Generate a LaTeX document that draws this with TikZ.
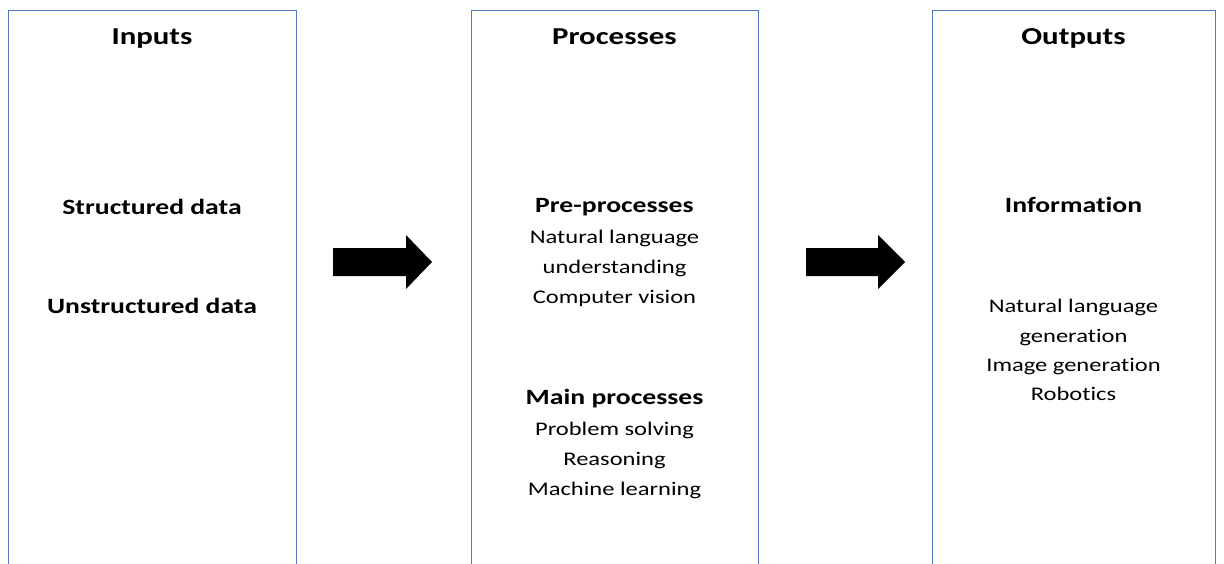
\documentclass[tikz,border=0pt]{standalone}
\usepackage{fontspec}
\setmainfont{Carlito}[FakeStretch=1.27, Ligatures={NoCommon,NoRare,NoContextual}]
\newcommand{\nl}{\kern0pt }
\definecolor{panelblue}{RGB}{80,120,196}
\tikzset{
  panel/.style={draw=panelblue, line width=0.9pt, rectangle, anchor=north west, inner sep=0pt},
  title/.style={anchor=base, inner sep=0pt, font=\fontsize{24.3}{29}\selectfont\bfseries},
  head/.style={anchor=base, inner sep=0pt, font=\fontsize{21.8}{29}\selectfont\bfseries},
  body/.style={anchor=base, inner sep=0pt, font=\fontsize{19.3}{29}\selectfont},
  blockarrow/.style={fill=black, draw=none}
}
\begin{document}
\begin{tikzpicture}[x=1pt,y=-1pt]
\useasboundingbox (0,0) rectangle (1224,563);
\clip (0,0) rectangle (1224,563);
% panels
\node[panel, minimum width=288pt, minimum height=620pt] (inbox) at (8,10) {};
\node[panel, minimum width=287pt, minimum height=620pt] (procbox) at (471,10) {};
\node[panel, minimum width=283pt, minimum height=620pt] (outbox) at (932,10) {};
% titles
\node[title] (tin) at (152,44) {Inputs};
\node[title] (tproc) at (614.5,44) {Processes};
\node[title] (tout) at (1073.5,44) {Outputs};
% inputs
\node[head] (sd) at (152,214) {Structured data};
\node[head] (ud) at (152,313) {Unstructured data};
% processes
\node[head] (pre) at (614.5,212) {Pre-processes};
\node[body] (p1) at (614.5,243) {Natural language};
\node[body] (p2) at (614.5,273) {understanding};
\node[body] (p3) at (614.5,303) {Computer vision};
\node[head] (mainp) at (614.5,404) {Main processes};
\node[body] (m1) at (614.5,435) {Problem solving};
\node[body] (m2) at (614.5,465) {Reasoning};
\node[body] (m3) at (614.5,495) {Machine learning};
% outputs
\node[head] (info) at (1073.5,212) {Informat\nl ion};
\node[body] (o1) at (1073.5,312) {Natural language};
\node[body] (o2) at (1073.5,342) {generat\nl ion};
\node[body] (o3) at (1073.5,371) {Image generat\nl ion};
\node[body] (o4) at (1073.5,400) {Robot\nl ics};
% block arrows
\fill[blockarrow] (333,248) -- (406,248) -- (406,235) -- (432,262) -- (406,289) -- (406,276) -- (333,276) -- cycle;
\fill[blockarrow] (806,248) -- (878,248) -- (878,235) -- (905,262) -- (878,289) -- (878,276) -- (806,276) -- cycle;
\end{tikzpicture}
\end{document}
